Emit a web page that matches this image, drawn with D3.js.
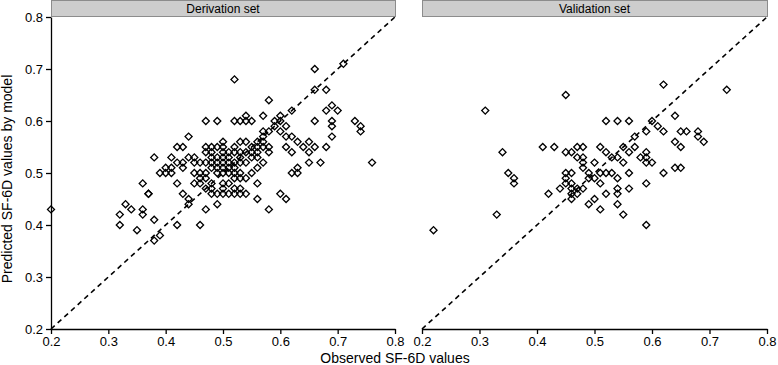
<!DOCTYPE html>
<html>
<head>
<meta charset="utf-8">
<script src="https://cdn.jsdelivr.net/npm/d3@7"></script>
<style>
  body { margin: 0; background: #fff; }
  text { font-family: "Liberation Sans", Arial, Helvetica, sans-serif; }
</style>
</head>
<body>
<svg width="778" height="365"></svg>
<script>
// data
var panelTitles = ['Derivation set', 'Validation set'];
var tickValues = [0.2, 0.3, 0.4, 0.5, 0.6, 0.7, 0.8];

var derivObs = [0.20,0.32,0.32,0.33,0.34,0.35,0.36,0.36,0.36,0.37,0.37,0.38,0.38,0.38,0.39,0.39,
  0.40,0.40,0.41,0.41,0.41,0.42,0.42,0.42,0.42,0.43,0.43,0.43,0.43,0.44,0.44,0.44,0.44,
  0.45,0.45,0.45,0.45,0.46,0.46,0.46,0.46,0.47,0.47,0.47,0.47,0.47,0.47,0.47,0.47,
  0.48,0.48,0.48,0.48,0.48,0.48,0.48,0.49,0.49,0.49,0.49,0.50,0.50,0.50,0.52,0.52,0.53,0.54,
  0.49,0.50,0.51,0.51,0.52,0.53,0.53,0.54,0.55,0.55,0.56,0.56,0.57,0.56,0.58,0.58,
  0.48,0.49,0.50,0.50,0.51,0.51,0.52,0.52,0.53,0.52,0.53,0.54,0.50,0.51,0.52,0.50,0.52,0.53,0.54,0.51,0.49,
  0.56,0.56,0.58,0.56,0.57,0.52,0.52,0.53,0.54,0.54,0.55,0.57,0.58,0.59,0.60,0.60,0.61,0.62,
  0.57,0.58,0.57,0.57,0.66,0.66,0.68,0.71,0.69,0.68,0.70,0.66,0.69,0.69,0.73,0.74,0.74,0.69,0.68,
  0.76,0.67,0.65,0.65,0.65,0.66,0.64,0.63,0.62,0.61,0.61,0.62,0.63,0.62,0.63,0.60,0.61,
  0.59,0.60,0.55,0.56,0.53,0.51,0.50,0.49,0.46,0.54,0.55,0.53,0.50];
var derivPred = [0.43,0.42,0.40,0.44,0.43,0.39,0.48,0.43,0.42,0.46,0.46,0.53,0.41,0.37,0.38,0.50,
  0.50,0.51,0.51,0.50,0.53,0.55,0.48,0.40,0.52,0.55,0.52,0.51,0.46,0.57,0.53,0.45,0.44,
  0.53,0.52,0.50,0.48,0.50,0.49,0.48,0.40,0.60,0.55,0.54,0.52,0.50,0.49,0.47,0.43,
  0.55,0.54,0.53,0.52,0.48,0.47,0.46,0.60,0.55,0.50,0.44,0.56,0.55,0.54,0.55,0.54,0.56,0.56,
  0.53,0.53,0.53,0.52,0.52,0.53,0.52,0.54,0.54,0.53,0.55,0.54,0.55,0.53,0.55,0.54,
  0.51,0.51,0.51,0.50,0.51,0.50,0.51,0.50,0.50,0.49,0.49,0.49,0.48,0.48,0.47,0.47,0.46,0.47,0.46,0.46,0.46,
  0.48,0.45,0.43,0.51,0.52,0.68,0.60,0.60,0.61,0.60,0.60,0.61,0.64,0.60,0.61,0.60,0.59,0.62,
  0.58,0.58,0.57,0.56,0.70,0.66,0.66,0.71,0.63,0.62,0.62,0.60,0.60,0.59,0.60,0.59,0.58,0.57,0.55,
  0.52,0.52,0.52,0.56,0.54,0.55,0.55,0.56,0.57,0.57,0.55,0.54,0.51,0.50,0.50,0.46,0.45,
  0.59,0.58,0.55,0.56,0.54,0.54,0.52,0.52,0.52,0.52,0.50,0.46,0.46];

var validObs = [0.22,0.31,0.33,0.34,0.35,0.36,0.36,0.41,0.43,0.45,0.42,0.44,
  0.45,0.46,0.47,0.48,0.47,0.48,0.48,0.48,
  0.45,0.46,0.45,0.45,0.46,0.46,0.46,0.46,0.47,0.47,0.48,0.49,0.50,0.49,
  0.62,0.73,0.52,0.54,0.56,0.60,0.64,0.61,0.62,0.59,0.65,0.66,0.68,0.68,0.69,0.64,0.65,
  0.57,0.55,0.57,0.56,0.51,0.52,0.53,0.50,0.54,0.55,0.58,0.59,0.59,0.59,0.60,
  0.51,0.52,0.53,0.54,0.56,0.62,0.64,0.65,0.59,0.56,0.54,0.54,0.52,0.51,0.50,0.49,0.51,0.54,0.55,0.59];
var validPred = [0.39,0.62,0.42,0.54,0.50,0.49,0.48,0.55,0.55,0.65,0.46,0.47,
  0.54,0.54,0.55,0.55,0.53,0.53,0.52,0.51,
  0.50,0.50,0.49,0.48,0.48,0.47,0.46,0.45,0.47,0.46,0.47,0.49,0.49,0.50,
  0.67,0.66,0.60,0.60,0.60,0.60,0.61,0.59,0.58,0.58,0.58,0.58,0.58,0.57,0.56,0.56,0.55,
  0.57,0.55,0.55,0.54,0.55,0.54,0.53,0.52,0.53,0.52,0.53,0.54,0.53,0.52,0.52,
  0.50,0.50,0.50,0.49,0.50,0.50,0.51,0.51,0.48,0.47,0.47,0.46,0.46,0.48,0.45,0.44,0.43,0.44,0.42,0.40];

var svg = d3.select('svg');

var scaleY = d3.scaleLinear().domain([0.2, 0.8]).range([329, 17]);
var panels = [
  { title: panelTitles[0], x0: 51, x1: 395, obs: derivObs, pred: derivPred, leftAxis: true },
  { title: panelTitles[1], x0: 422, x1: 767, obs: validObs, pred: validPred, leftAxis: false }
];

var diamond = d3.symbol().type(d3.symbolSquare).size(25);

panels.forEach(function (p) {
  var scaleX = d3.scaleLinear().domain([0.2, 0.8]).range([p.x0, p.x1]);
  var g = svg.append('g');

  // strip
  g.append('rect')
    .attr('x', p.x0 + 0.5).attr('y', 0.5)
    .attr('width', p.x1 - p.x0).attr('height', 16)
    .attr('fill', '#cdcdcd').attr('stroke', '#8c8c8c').attr('stroke-width', 1);
  g.append('text')
    .attr('x', (p.x0 + p.x1) / 2).attr('y', 12.5)
    .attr('text-anchor', 'middle').attr('font-size', 12)
    .text(p.title);

  // 45 degree line
  g.append('line')
    .attr('x1', scaleX(0.2)).attr('y1', scaleY(0.2))
    .attr('x2', scaleX(0.8)).attr('y2', scaleY(0.8))
    .attr('stroke', '#000').attr('stroke-width', 1.6)
    .attr('stroke-dasharray', '5,4');

  // points
  g.selectAll('path.pt')
    .data(p.obs.map(function (d, i) { return [d, p.pred[i]]; }))
    .enter()
    .append('path')
    .attr('class', 'pt')
    .attr('d', diamond)
    .attr('transform', function (d) {
      return 'translate(' + scaleX(d[0]) + ',' + scaleY(d[1]) + ') rotate(45)';
    })
    .attr('fill', 'none').attr('stroke', '#000').attr('stroke-width', 1.3);

  // x axis
  var ax = g.append('g')
    .attr('transform', 'translate(0,329)')
    .call(d3.axisBottom(scaleX).tickValues(tickValues).tickSize(5).tickSizeOuter(0)
      .tickFormat(d3.format('.1f')));
  ax.select('.domain').attr('stroke-width', 1.3);
  ax.selectAll('.tick line').attr('stroke-width', 1.3);
  ax.selectAll('text').attr('font-size', 13).attr('fill', '#000')
    .attr('font-family', '"Liberation Sans", Arial, sans-serif').attr('y', 7).attr('dy', '0.8em');

  if (p.leftAxis) {
    var ay = g.append('g')
      .attr('transform', 'translate(' + p.x0 + ',0)')
      .call(d3.axisLeft(scaleY).tickValues(tickValues).tickSize(5).tickSizeOuter(0)
        .tickFormat(d3.format('.1f')));
    ay.select('.domain').attr('stroke-width', 1.3);
    ay.selectAll('.tick line').attr('stroke-width', 1.3);
    ay.selectAll('text').attr('font-size', 13).attr('fill', '#000')
      .attr('font-family', '"Liberation Sans", Arial, sans-serif');
  }
});

// axis titles
svg.append('text')
  .attr('x', 395).attr('y', 363)
  .attr('text-anchor', 'middle').attr('font-size', 14)
  .text('Observed SF-6D values');

svg.append('text')
  .attr('transform', 'rotate(270)')
  .attr('x', -179).attr('y', 12)
  .attr('text-anchor', 'middle').attr('font-size', 14)
  .text('Predicted SF-6D values by model');
</script>
</body>
</html>
